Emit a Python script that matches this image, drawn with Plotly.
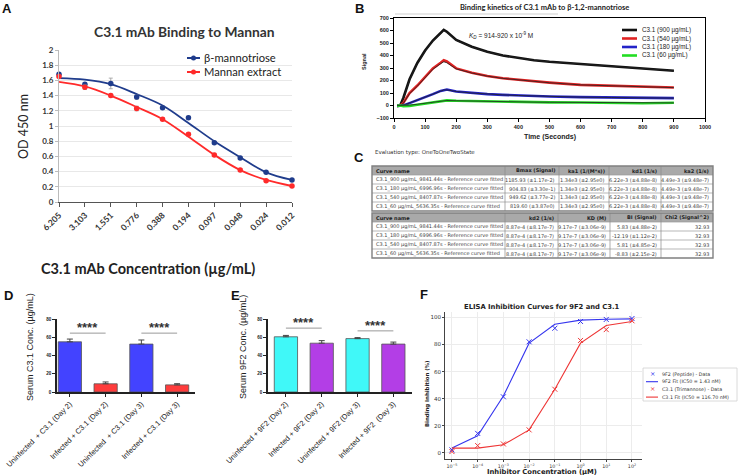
import plotly.graph_objects as go

W, H = 738, 475


def fx(px):
    return px / W


def fy(py):
    return 1 - py / H


# ---------------- Panel A: C3.1 mAb binding to mannan ----------------
conc_labels = ["6.205", "3.103", "1.551", "0.776", "0.388", "0.194", "0.097", "0.048", "0.024", "0.012"]
trio_od = [1.68, 1.55, 1.56, 1.38, 1.24, 1.11, 0.78, 0.58, 0.39, 0.29]
trio_err = [0.02, 0.02, 0.07, 0.03, 0.02, 0.02, 0.02, 0.02, 0.01, 0.01]
trio_fit = [1.63, 1.61, 1.55, 1.42, 1.27, 1.04, 0.80, 0.59, 0.39, 0.29]
mannan_od = [1.65, 1.51, 1.40, 1.23, 1.09, 0.89, 0.62, 0.42, 0.28, 0.21]
mannan_err = [0.02, 0.03, 0.02, 0.03, 0.02, 0.02, 0.02, 0.02, 0.01, 0.01]
mannan_fit = [1.58, 1.52, 1.40, 1.25, 1.09, 0.86, 0.62, 0.42, 0.29, 0.21]

# ---------------- Panel B: binding kinetics ----------------
kin_time = [10, 20, 30, 50, 75, 100, 125, 150, 160, 170, 200, 250, 300, 350, 400, 450, 500, 600, 700, 800, 900]
sig_900 = [-3, 0, 60, 210, 340, 440, 520, 585, 605, 590, 525, 470, 430, 400, 378, 362, 350, 332, 316, 297, 278]
fit_900 = [0, 0, 55, 205, 335, 435, 515, 578, 598, 585, 522, 468, 428, 400, 378, 362, 350, 331, 314, 296, 278]
sig_540 = [-3, 0, 20, 100, 160, 225, 297, 342, 362, 352, 297, 262, 236, 218, 205, 193, 183, 165, 157, 146, 144]
fit_540 = [0, 0, 18, 95, 155, 220, 290, 335, 350, 342, 293, 260, 235, 217, 204, 192, 182, 165, 156, 147, 143]
sig_180 = [-3, 0, 0, 19, 42, 64, 91, 117, 125, 128, 112, 100, 91, 85, 80, 76, 72, 67, 64, 59, 59]
fit_180 = [0, 0, 2, 20, 43, 65, 90, 115, 124, 125, 112, 100, 91, 85, 80, 76, 72, 67, 64, 60, 59]
sig_60 = [-3, 0, -5, -3, 6, 15, 25, 35, 40, 41, 38, 35, 32, 30, 28, 26, 25, 24, 20, 18, 22]
fit_60 = [0, 0, 0, 3, 10, 18, 27, 35, 40, 40, 38, 35, 32, 30, 28, 27, 26, 24, 22, 21, 21]
kin_names = ["C3.1 (900 µg/mL)", "C3.1 (540 µg/mL)", "C3.1 (180 µg/mL)", "C3.1 (60 µg/mL)"]

# ---------------- Panel C: fit table ----------------
tbl1_header = ["Curve name", "Bmax (Signal)", "ka1 (1/(M*s))", "kd1 (1/s)", "ka2 (1/s)"]
curve_names = [
    "C3.1_900 µg/mL_9841.44s - Reference curve fitted",
    "C3.1_180 µg/mL_6996.96s - Reference curve fitted",
    "C3.1_540 µg/mL_8407.87s - Reference curve fitted",
    "C3.1_60 µg/mL_5636.35s - Reference curve fitted",
]
bmax = ["1185.93 (±1.17e-2)", "904.83 (±3.30e-1)", "949.62 (±3.77e-2)", "819.60 (±3.87e0)"]
ka1 = ["1.34e3 (±2.95e0)"] * 4
kd1 = ["6.22e-3 (±4.88e-8)"] * 4
ka2 = ["4.49e-3 (±9.48e-7)"] * 4
tbl2_header = ["Curve name", "kd2 (1/s)", "KD (M)", "BI (Signal)", "Chi2 (Signal^2)"]
kd2 = ["8.87e-4 (±8.17e-7)"] * 4
kd_m = ["9.17e-7 (±3.06e-9)"] * 4
bi = ["5.83 (±4.88e-2)", "-12.19 (±1.12e-2)", "5.81 (±4.85e-2)", "-8.83 (±2.15e-2)"]
chi2 = ["32.93"] * 4

# ---------------- Panel D / E: serum concentrations ----------------
d_groups = ["Uninfected  + C3.1 (Day 2)", "Infected + C3.1 (Day 2)", "Uninfected  + C3.1 (Day 3)", "Infected + C3.1 (Day 3)"]
d_conc = [55, 9, 52.5, 7.8]
d_err = [3, 2, 4.5, 1.3]
e_groups = ["Uninfected + 9F2 (Day 2)", "Infected + 9F2 (Day 2)", "Uninfected + 9F2 (Day 3)", "Infected + 9F2  (Day 3)"]
e_conc = [60.5, 53.5, 58.5, 52.5]
e_err = [1.5, 2.8, 1.1, 2.2]

# ---------------- Panel F: ELISA inhibition ----------------
inhib_conc = [1e-5, 1e-4, 1e-3, 1e-2, 1e-1, 1, 10, 100]
f9_data = [2.2, 14.4, 41.4, 82, 92, 97, 98.5, 99.2]
f9_fit = [3.7, 12.7, 42, 81, 95, 98, 98.7, 98.9]
c31_data = [1, 5.4, 6.6, 17, 47, 83, 91, 97.5]
c31_fit = [3.5, 3.5, 6, 17, 47, 81, 94, 97]

A_BLUE = "#1f3c8c"
A_RED = "#ff2a2a"
F_BLUE = "#3535ee"
F_RED = "#ee3535"

fig = go.Figure()

# ---- A traces
for fit, od, err, col in [(trio_fit, trio_od, trio_err, A_BLUE), (mannan_fit, mannan_od, mannan_err, A_RED)]:
    fig.add_trace(go.Scatter(x=conc_labels, y=fit, mode="lines", xaxis="x", yaxis="y",
                             line=dict(color=col, width=1.8, shape="spline"), hoverinfo="skip"))
    fig.add_trace(go.Scatter(x=conc_labels, y=od, mode="markers", xaxis="x", yaxis="y", cliponaxis=False,
                             marker=dict(color=col, size=5.5),
                             error_y=dict(type="data", array=err, color="#9a9a9a", thickness=0.8, width=2)))

# ---- B traces
kin_colors = ["#111111", "#e02222", "#2323c8", "#22dd22"]
for sig, fit, col in zip([sig_900, sig_540, sig_180, sig_60], [fit_900, fit_540, fit_180, fit_60], kin_colors):
    fig.add_trace(go.Scatter(x=kin_time, y=sig, mode="lines", xaxis="x2", yaxis="y2",
                             line=dict(color=col, width=2.6)))
    fig.add_trace(go.Scatter(x=kin_time, y=fit, mode="lines", xaxis="x2", yaxis="y2",
                             line=dict(color="#222222", width=0.8)))

# ---- D / E bars
for groups, vals, errs, colors, xa, ya in [
    (d_groups, d_conc, d_err, ["#4343ff", "#ff3c3c"] * 2, "x3", "y3"),
    (e_groups, e_conc, e_err, ["#40f8f8", "#b33ee6"] * 2, "x4", "y4"),
]:
    fig.add_trace(go.Bar(x=groups, y=vals, xaxis=xa, yaxis=ya, width=0.65,
                         marker=dict(color=colors, line=dict(color="#555555", width=0.8)),
                         error_y=dict(type="data", symmetric=False, array=errs, arrayminus=[0] * 4,
                                      color="#444444", thickness=1, width=3)))

# ---- F traces
for fit, dat, col in [(f9_fit, f9_data, F_BLUE), (c31_fit, c31_data, F_RED)]:
    fig.add_trace(go.Scatter(x=inhib_conc, y=fit, mode="lines", xaxis="x5", yaxis="y5",
                             line=dict(color=col, width=1.1)))
    fig.add_trace(go.Scatter(x=inhib_conc, y=dat, mode="markers", xaxis="x5", yaxis="y5", cliponaxis=False,
                             marker=dict(symbol="x-thin", size=5, line=dict(color=col, width=1))))

arial_b = dict(family="Liberation Sans", weight="bold", color="#222222")

fig.update_layout(
    width=W, height=H, margin=dict(l=0, r=0, t=0, b=0, autoexpand=False),
    paper_bgcolor="white", plot_bgcolor="white", showlegend=False,
    xaxis=dict(domain=[fx(59), fx(292)], anchor="y", type="category", range=[0, 9], automargin=False,
               tickangle=-45, ticks="outside", ticklen=4, tickcolor="#555555",
               showline=True, linecolor="#555555", linewidth=1, showgrid=False,
               tickfont=dict(family="Lato", size=8.5, weight="bold", color="#333333")),
    yaxis=dict(domain=[fy(202), fy(50)], anchor="x", range=[0, 2], dtick=0.2, automargin=False,
               ticks="outside", ticklen=3, tickcolor="#bbbbbb",
               showline=True, linecolor="#bbbbbb", showgrid=True, gridcolor="#e8e8e8", zeroline=False,
               tickfont=dict(family="Lato", size=8, weight="bold", color="#333333")),
    xaxis2=dict(domain=[fx(394), fx(705)], anchor="y2", range=[0, 1000], dtick=100, automargin=False,
                ticks="outside", ticklen=3, tickcolor="black", showline=True, linecolor="black",
                mirror=True, showgrid=False, zeroline=False, tickfont=dict(size=5.5, **arial_b)),
    yaxis2=dict(domain=[fy(118), fy(18)], anchor="x2", range=[-100, 700], dtick=100, automargin=False,
                ticks="outside", ticklen=3, tickcolor="black", showline=True, linecolor="black",
                mirror=True, showgrid=False, zeroline=False, tickfont=dict(size=5.5, **arial_b)),
    xaxis3=dict(domain=[fx(57), fx(195)], anchor="y3", type="category", range=[-0.36, 3.5], automargin=False,
                tickangle=-45, ticks="outside", ticklen=3, tickcolor="#222222",
                showline=True, linecolor="#222222", linewidth=1.5,
                tickfont=dict(family="Liberation Sans", size=7.5, color="#222222")),
    yaxis3=dict(domain=[fy(392), fy(319)], anchor="x3", range=[0, 80], dtick=20, automargin=False,
                ticks="outside", ticklen=3, tickcolor="#222222", showline=True, linecolor="#222222",
                linewidth=1.5, showgrid=False, zeroline=False, tickfont=dict(size=4.5, **arial_b)),
    xaxis4=dict(domain=[fx(268), fx(412)], anchor="y4", type="category", range=[-0.5, 3.52], automargin=False,
                tickangle=-45, ticks="outside", ticklen=3, tickcolor="#222222",
                showline=True, linecolor="#222222", linewidth=1.5,
                tickfont=dict(family="Liberation Sans", size=7.5, color="#222222")),
    yaxis4=dict(domain=[fy(392), fy(319)], anchor="x4", range=[0, 80], dtick=20, automargin=False,
                ticks="outside", ticklen=3, tickcolor="#222222", showline=True, linecolor="#222222",
                linewidth=1.5, showgrid=False, zeroline=False, tickfont=dict(size=4.5, **arial_b)),
    xaxis5=dict(domain=[fx(445), fx(642)], anchor="y5", type="log", range=[-5.27, 2.39], automargin=False,
                tickvals=[1e-5, 1e-4, 1e-3, 1e-2, 1e-1, 1, 10, 100],
                ticktext=["10<sup>−5</sup>", "10<sup>−4</sup>", "10<sup>−3</sup>", "10<sup>−2</sup>",
                          "10<sup>−1</sup>", "10<sup>0</sup>", "10<sup>1</sup>", "10<sup>2</sup>"],
                ticks="outside", ticklen=2, tickcolor="#444444", showline=True, linecolor="#444444",
                showgrid=True, gridcolor="#ececec",
                tickfont=dict(family="DejaVu Sans", size=4.8, color="#333333")),
    yaxis5=dict(domain=[fy(459), fy(312)], anchor="x5", range=[-4.5, 104], dtick=20, automargin=False,
                ticks="outside", ticklen=2, tickcolor="#444444", showline=True, linecolor="#444444",
                showgrid=True, gridcolor="#ececec", zeroline=False,
                tickfont=dict(family="DejaVu Sans", size=5.5, color="#333333")),
)

ann = []
shapes = []


def text(px, py, s, size, family="Liberation Sans", bold=False, color="#222222", angle=0,
         xanchor="center", yanchor="middle"):
    ann.append(dict(x=fx(px), y=fy(py), xref="paper", yref="paper", text=s, showarrow=False,
                    textangle=angle, xanchor=xanchor, yanchor=yanchor,
                    font=dict(family=family, size=size, color=color, weight="bold" if bold else "normal")))


def pline(x0, y0, x1, y1, color, width):
    shapes.append(dict(type="line", xref="paper", yref="paper", x0=fx(x0), x1=fx(x1), y0=fy(y0), y1=fy(y1),
                       line=dict(color=color, width=width)))


# panel letters
for letter, px, py in [("A", 7, 9), ("B", 359, 9), ("C", 359, 158), ("D", 8, 295), ("E", 235, 295), ("F", 424, 294)]:
    text(px, py, letter, 13, bold=True, color="#111111")

# A texts and legend
text(185, 32, "C3.1 mAb Binding to Mannan", 13.8, family="Lato", bold=True, color="#333333")
text(23, 127, "OD 450 nm", 12.5, family="Lato", color="#222222", angle=-90)
text(148, 268, "C3.1 mAb Concentration (µg/mL)", 14.5, family="Lato", bold=True, color="#222222")
for py, lab, col in [(58, "β-mannotriose", A_BLUE), (72, "Mannan extract", A_RED)]:
    pline(187, py, 200, py, col, 2)
    shapes.append(dict(type="circle", xref="paper", yref="paper", x0=fx(191), x1=fx(196), y0=fy(py + 2.5),
                       y1=fy(py - 2.5), fillcolor=col, line=dict(color=col, width=0)))
    text(202, py, lab, 11.2, family="Lato", color="#222222", xanchor="left")

# B texts and legend
text(544, 7, "Binding kinetics of C3.1 mAb to β-1,2-mannotriose", 7.5, family="Lato", bold=True, color="#222222")
text(550, 137, "Time (Seconds)", 7, bold=True)
text(364, 62, "Signal", 5.5, bold=True, angle=-90)
text(467, 35, "<i>K</i><sub><i>D</i></sub> = 914-920 x 10<sup>-9</sup> M", 6.5, xanchor="left")
pline(395, 14, 558, 14, "#cfcfcf", 1)
for i, (lab, col) in enumerate(zip(kin_names, kin_colors)):
    py = 30 + i * 8.5
    pline(622, py, 637, py, col, 2.6)
    text(640, py, lab, 6.3, xanchor="left")

# C: tables drawn as cells
text(373, 152, "Evaluation type: OneToOneTwoState", 5.5, family="DejaVu Sans", color="#333333", xanchor="left")
tables = [
    (tbl1_header, [curve_names, bmax, ka1, kd1, ka2], [372, 505, 559, 609, 661, 713], 166),
    (tbl2_header, [curve_names, kd2, kd_m, bi, chi2], [372, 505, 558, 610, 661, 713], 213),
]
row_h = 9
for hdr, cols, xs, top in tables:
    n_rows = len(cols[0]) + 1
    bottom = top + n_rows * row_h
    shapes.append(dict(type="rect", xref="paper", yref="paper", x0=fx(xs[0]), x1=fx(xs[-1]),
                       y0=fy(top + row_h), y1=fy(top), fillcolor="#a9a9a9", line=dict(width=0), layer="below"))
    for r in range(1, n_rows):
        pline(xs[0], top + r * row_h, xs[-1], top + r * row_h, "#9a9a9a", 0.7)
    for xv in xs[1:-1]:
        pline(xv, top, xv, bottom, "#8a8a8a", 0.7)
    shapes.append(dict(type="rect", xref="paper", yref="paper", x0=fx(xs[0]), x1=fx(xs[-1]),
                       y0=fy(bottom), y1=fy(top), line=dict(color="#808080", width=1.4)))
    for c, (h, col_vals) in enumerate(zip(hdr, cols)):
        left = c == 0
        tx = xs[c] + 2 if left else xs[c + 1] - 2
        anchor = "left" if left else "right"
        text(tx, top + row_h / 2, "<b>%s</b>" % h, 5, family="DejaVu Sans", color="#222222", xanchor=anchor)
        for r, v in enumerate(col_vals):
            text(tx, top + (r + 1.5) * row_h, v, 5, family="DejaVu Sans", color="#444444", xanchor=anchor)

# D / E titles and significance marks
text(30, 347, "Serum C3.1 Conc. (µg/mL)", 9, angle=-90)
text(243, 347, "Serum 9F2 Conc. (µg/mL)", 9, angle=-90)
sig_d = [(0, 1, 64.5), (2, 3, 64.5)]
sig_e = [(0, 1, 70), (2, 3, 67)]
for sigs, xa, ya in [(sig_d, "x3", "y3"), (sig_e, "x4", "y4")]:
    for a, b, yv in sigs:
        shapes.append(dict(type="line", xref=xa, yref=ya, x0=a, x1=b, y0=yv, y1=yv,
                           line=dict(color="#999999", width=1)))
        ann.append(dict(x=(a + b) / 2, y=yv, xref=xa, yref=ya, text="****", showarrow=False,
                        yanchor="bottom", yshift=-4,
                        font=dict(family="Liberation Sans", size=13, color="#333333", weight="bold")))

# F texts and legend
text(542, 307, "ELISA Inhibition Curves for 9F2 and C3.1", 6.8, family="DejaVu Sans", bold=True, color="#222222")
text(542, 471.5, "Inhibitor Concentration (µM)", 6.8, family="DejaVu Sans", bold=True, color="#222222")
text(427, 394, "Binding Inhibition (%)", 5.4, family="DejaVu Sans", bold=True, color="#222222", angle=-90)
shapes.append(dict(type="rect", xref="paper", yref="paper", x0=fx(643), x1=fx(737), y0=fy(401), y1=fy(368),
                   fillcolor="white", line=dict(color="#d0d0d0", width=0.8)))
f_legend = [("9F2 (Peptide) - Data", F_BLUE, "marker"), ("9F2 Fit (IC50 = 1.43 nM)", F_BLUE, "line"),
            ("C3.1 (Trimannose) - Data", F_RED, "marker"), ("C3.1 Fit (IC50 = 116.70 nM)", F_RED, "line")]
for i, (lab, col, kind) in enumerate(f_legend):
    py = 374 + i * 7.7
    if kind == "line":
        pline(646, py, 658, py, col, 1.1)
    else:
        text(652, py, "×", 6.5, family="DejaVu Sans", color=col)
    text(660, py, lab, 4.8, family="DejaVu Sans", color="#333333", xanchor="left")

fig.update_layout(annotations=ann, shapes=shapes)
# the page body keeps a default 8px margin; drop it so the figure fills the window
fig.write_html("out.html", config={"displayModeBar": False},
               post_script="document.body.style.margin='0';")
